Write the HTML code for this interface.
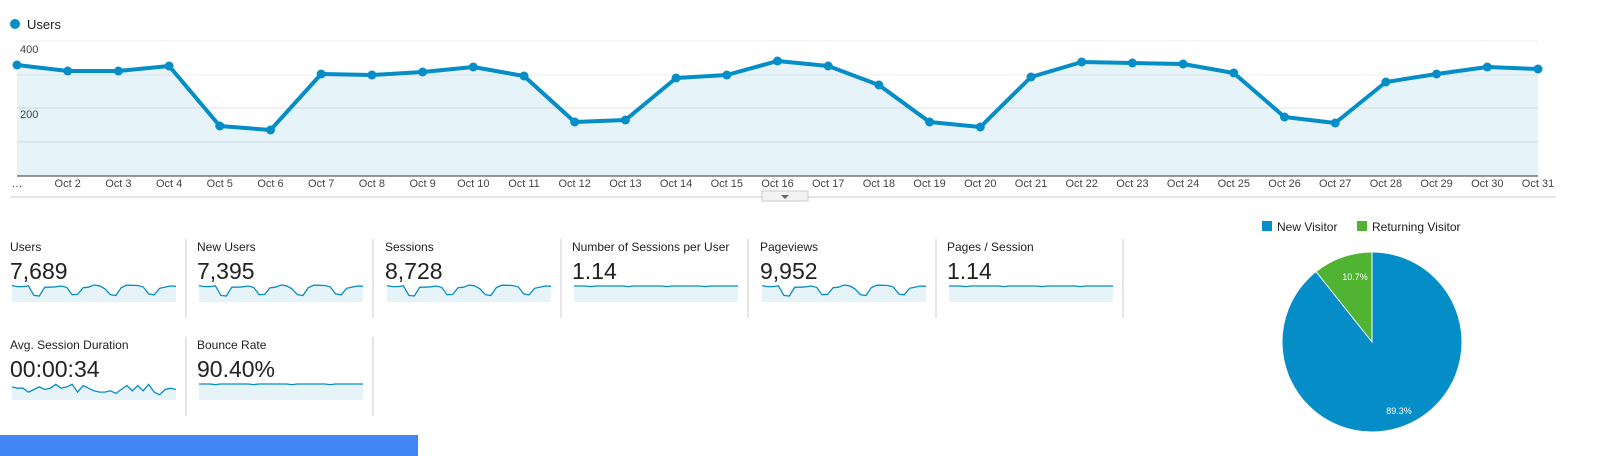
<!DOCTYPE html>
<html><head><meta charset="utf-8">
<style>
body{margin:0;width:1599px;height:456px;overflow:hidden;background:#fff;font-family:"Liberation Sans",Arial,sans-serif;position:relative}
svg{position:absolute;left:0;top:0}
</style></head><body>
<svg id="s" width="1599" height="456" xmlns="http://www.w3.org/2000/svg" font-family="Liberation Sans, Arial, sans-serif">
<circle cx="15" cy="24" r="5" fill="#058dc7"/>
<text x="27" y="29" font-size="13" fill="#222">Users</text>
<line x1="17" y1="41" x2="1538" y2="41" stroke="#eee"/>
<line x1="17" y1="75" x2="1538" y2="75" stroke="#eee"/>
<line x1="17" y1="108" x2="1538" y2="108" stroke="#e3e3e3"/>
<line x1="17" y1="142" x2="1538" y2="142" stroke="#e3e3e3"/>
<g id="main"></g>
<line x1="17" y1="176" x2="1538" y2="176" stroke="#333" stroke-width="1"/>
<text x="20" y="53" font-size="11" fill="#444">400</text>
<text x="20" y="118" font-size="11" fill="#444">200</text>
<g id="xl" font-size="11" fill="#444" text-anchor="middle"></g>
<line x1="11" y1="197" x2="1556" y2="197" stroke="#ccc"/>
<rect x="762" y="191" width="46" height="10" fill="#f3f3f3" stroke="#ccc"/>
<path d="M781 195 L789 195 L785 199 Z" fill="#666"/>
<g id="metrics"></g>
<rect x="1262" y="221" width="10" height="10" fill="#058dc7"/>
<text x="1277" y="231" font-size="12" fill="#222">New Visitor</text>
<rect x="1357" y="221" width="10" height="10" fill="#50b432"/>
<text x="1372" y="231" font-size="12" fill="#222">Returning Visitor</text>
<circle cx="1372" cy="342" r="90" fill="#058dc7" stroke="#fff" stroke-width="1"/>
<path d="M1372 342 L1372 252 A90 90 0 0 0 1316 271.6 Z" fill="#50b432" stroke="#fff" stroke-width="1"/>
<text x="1355" y="280" font-size="9" fill="#fff" text-anchor="middle">10.7%</text>
<text x="1399" y="414" font-size="9" fill="#fff" text-anchor="middle">89.3%</text>
<rect x="0" y="435" width="418" height="21" fill="#4285f4"/>
</svg>
<script>
var NS="http://www.w3.org/2000/svg";
function el(t,a,p){var e=document.createElementNS(NS,t);for(var k in a)e.setAttribute(k,a[k]);p.appendChild(e);return e;}
var Y=[65,71,71,66,126,130,74,75,72,67,76,122,120,78,75,61,66,85,122,127,77,62,63,64,73,117,123,82,74,67,69];
var m=document.getElementById("main"),st=(1538-17)/30;
var pts=Y.map(function(y,i){return (17+i*st).toFixed(1)+","+y;});
el("path",{d:"M17,176 L"+pts.join(" L")+" L1538,176 Z",fill:"#058dc7","fill-opacity":"0.1"},m);
el("polyline",{points:pts.join(" "),fill:"none",stroke:"#058dc7","stroke-width":"4","stroke-linejoin":"round"},m);
Y.forEach(function(y,i){el("circle",{cx:17+i*st,cy:y,r:4.5,fill:"#058dc7"},m);});
var xl=document.getElementById("xl");
for(var i=0;i<31;i++){var t=el("text",{x:17+i*st,y:187},xl);t.textContent=i==0?"…":"Oct "+(i+1);}
var M=document.getElementById("metrics");
var met=[["Users","7,689",0,240,1],["New Users","7,395",187,240,1],["Sessions","8,728",375,240,1],["Number of Sessions per User","1.14",562,240,0],["Pageviews","9,952",750,240,1],["Pages / Session","1.14",937,240,0],["Avg. Session Duration","00:00:34",0,338,2],["Bounce Rate","90.40%",187,338,0]];
var D=[3,4,4,7,5,3,5,4,1,4,3,1,7,2,4,6,7,7,6,8,5,2,6,2,6,1,7,9,5,4,5];
met.forEach(function(r){
 var x=r[2]+10,y=r[3];
 el("text",{x:x,y:y+11,"font-size":12,fill:"#222"},M).textContent=r[0];
 el("text",{x:x,y:y+39,"font-size":23,fill:"#222"},M).textContent=r[1];
 el("line",{x1:r[2]+186,y1:y-1,x2:r[2]+186,y2:y+78,stroke:"#ccc"},M);
 var by=y+62,top=y+45,p=[];
 for(var i=0;i<31;i++){var v;
  if(r[4]==1)v=top+(Y[i]-61)/69*11;
  else if(r[4]==2)v=top+D[i]*1.3;
  else v=top+1+(i%7==3?0.6:0);
  p.push((x+2+i*164/30).toFixed(1)+","+v.toFixed(1));}
 el("path",{d:"M"+(x+2)+","+by+" L"+p.join(" L")+" L"+(x+166)+","+by+" Z",fill:"#058dc7","fill-opacity":"0.1"},M);
 el("polyline",{points:p.join(" "),fill:"none",stroke:"#058dc7","stroke-width":"1.3"},M);
});
</script>
</body></html>
